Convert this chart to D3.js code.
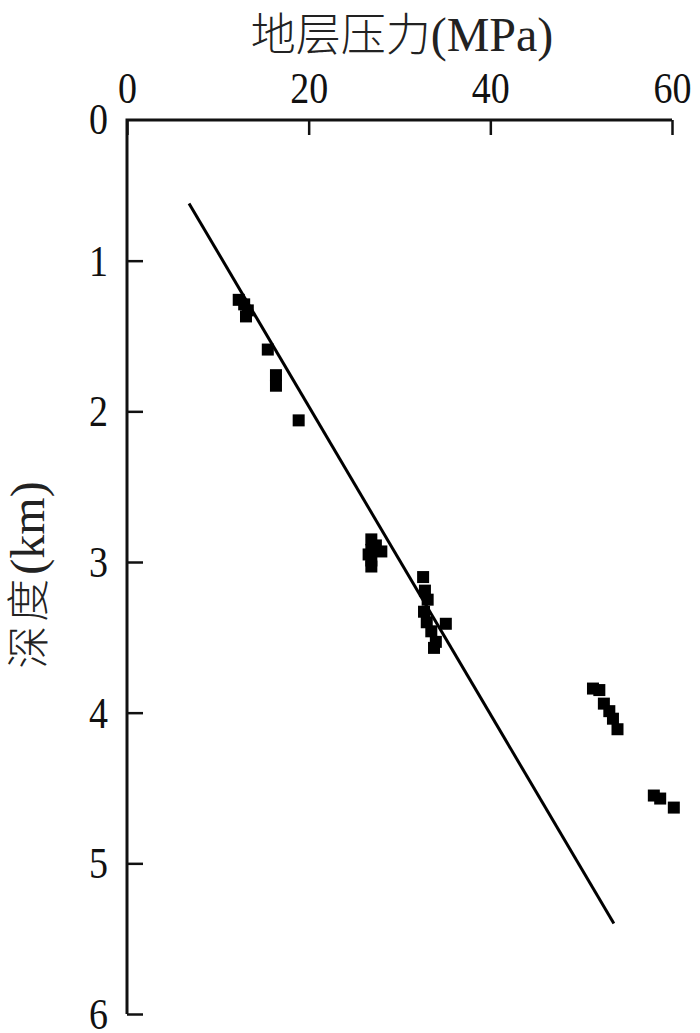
<!DOCTYPE html>
<html><head><meta charset="utf-8">
<script src="https://cdn.jsdelivr.net/npm/d3@7"></script>
<style>html,body{margin:0;padding:0;background:#fff;}</style>
</head><body>
<svg id="c" width="700" height="1033"></svg>
<script>
const xTicks = [0, 20, 40, 60];
const yTicks = [1, 2, 3, 4, 5, 6];
const pressure = [12.3, 12.9, 13.3, 13.1, 15.5, 16.4, 16.4, 18.9,
  26.9, 26.9, 26.9, 26.9, 28.0, 27.4, 26.6,
  32.6, 32.8, 33.1, 32.7, 33.0, 33.5, 34.0, 33.8, 35.1,
  51.3, 52.0, 52.5, 53.1, 53.5, 54.0,
  58.0, 58.7, 60.2];
const depth = [1.26, 1.29, 1.33, 1.37, 1.59, 1.76, 1.83, 2.06,
  2.85, 2.92, 2.99, 3.03, 2.93, 2.89, 2.95,
  3.10, 3.19, 3.25, 3.33, 3.40, 3.46, 3.53, 3.57, 3.41,
  3.84, 3.85, 3.94, 3.99, 4.04, 4.11,
  4.55, 4.57, 4.63];
const fitP = [6.83, 53.6];
const fitD = [0.62, 5.40];

const svg = d3.select("#c");
const x = d3.scaleLinear().domain([0, 60]).range([127, 672]);
const y = d3.scaleLinear().domain([0, 6]).range([110, 1014]);
const axisTop = 120;
const serif = "'Liberation Serif','Times New Roman',serif";
const cjk = "'Noto Sans CJK SC',sans-serif";

// axes
const xa = svg.append("g").attr("transform", `translate(0,${axisTop})`)
  .call(d3.axisTop(x).tickValues(xTicks).tickSizeInner(-15).tickSizeOuter(0).tickPadding(15));
const ya = svg.append("g").attr("transform", `translate(${x(0)},0)`)
  .call(d3.axisLeft(y).tickValues(yTicks).tickFormat(d3.format("d")).tickSizeInner(-16).tickSizeOuter(0).tickPadding(19));
[xa, ya].forEach(a => {
  a.select(".domain").remove();
  a.selectAll("line").attr("stroke", "#111").attr("stroke-width", 2.5);
  a.selectAll("text").attr("font-family", serif).attr("font-size", 38).attr("fill", "#111")
    .attr("transform", "scale(1,1.15)");
});
xa.selectAll("text").attr("dy", "0");
ya.selectAll("text").attr("dy", "0.33em");
// axis lines
svg.append("path").attr("d", `M${x(0)},${y(6)}V${axisTop}H${x(60)}`)
  .attr("fill", "none").attr("stroke", "#111").attr("stroke-width", 3);
svg.append("text").attr("transform", `translate(108,${axisTop}) scale(1,1.15)`).attr("dy", "0.33em")
  .attr("text-anchor", "end").attr("font-family", serif).attr("font-size", 38).attr("fill", "#111").text("0");

// fit line
svg.append("line")
  .attr("x1", x(fitP[0])).attr("y1", y(fitD[0]))
  .attr("x2", x(fitP[1])).attr("y2", y(fitD[1]))
  .attr("stroke", "#000").attr("stroke-width", 3);

// points
const s = 12;
svg.append("g").selectAll("rect").data(pressure.map((p, i) => [p, depth[i]]))
  .join("rect")
  .attr("x", d => x(d[0]) - s / 2).attr("y", d => y(d[1]) - s / 2)
  .attr("width", s).attr("height", s).attr("fill", "#000");

// titles
svg.append("text").attr("x", 402).attr("y", 51).attr("text-anchor", "middle")
  .attr("font-family", cjk).attr("font-weight", 300).attr("font-size", 45).attr("fill", "#222")
  .text("地层压力").append("tspan").attr("font-family", serif).attr("font-weight", 400).attr("font-size", 48).text("(MPa)");
const yl = svg.append("text").attr("transform", "translate(44,575) rotate(-90)").attr("text-anchor", "middle")
  .attr("font-family", cjk).attr("font-weight", 300).attr("font-size", 43).attr("fill", "#222");
yl.append("tspan").attr("letter-spacing", 4).text("深度");
yl.append("tspan").attr("font-family", serif).attr("font-weight", 400).attr("font-size", 48).text("(km)");
</script>
</body></html>
